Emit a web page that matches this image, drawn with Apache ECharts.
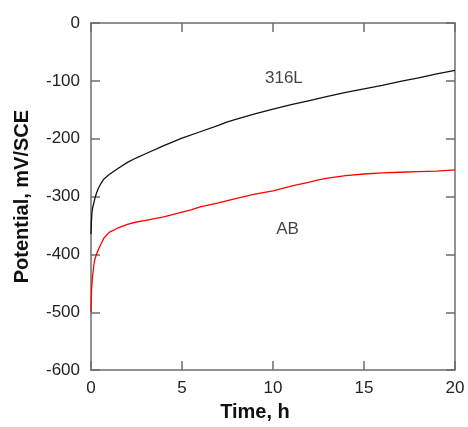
<!DOCTYPE html>
<html>
<head>
<meta charset="utf-8">
<script src="https://cdn.jsdelivr.net/npm/echarts@6/dist/echarts.min.js"></script>
<style>html,body{margin:0;padding:0;background:#fff}#c{width:468px;height:427px}</style>
</head>
<body>
<div id="c"></div>
<script>
const xTicks = [0, 5, 10, 15, 20];
const yTicks = [0, -100, -200, -300, -400, -500, -600];

const time316 = [0, 0.02, 0.05, 0.1, 0.15, 0.2, 0.3, 0.4, 0.5, 0.7, 1.0, 1.5, 2, 2.5, 3, 4, 5, 6, 7, 7.5, 8, 9, 10, 11, 12, 13, 14, 15, 16, 17, 17.5, 18, 19, 20];
const v316 = [-365, -345, -328, -318, -312, -305, -294, -286, -280, -270, -262, -251, -241, -233, -226, -212, -199, -188, -177, -171, -166, -157, -149, -141, -134, -127, -120, -114, -108, -101, -98, -95, -88, -82];

const timeAB = [0, 0.03, 0.08, 0.15, 0.2, 0.3, 0.4, 0.5, 0.7, 1.0, 1.5, 2, 2.5, 3, 4, 5, 5.5, 6, 7, 7.5, 8, 9, 10, 11, 12, 12.5, 13, 14, 15, 16, 17, 18, 19, 20];
const vAB = [-500, -462, -440, -420, -410, -400, -392, -385, -372, -362, -354, -348, -344, -341, -335, -327, -323, -318, -311, -307, -303, -296, -290, -282, -275, -271, -268, -264, -261, -259, -258, -257, -256, -254];

const labels = [
  { name: '316L', t: 10.6, v: -95 },
  { name: 'AB', t: 10.8, v: -356 }
];

const pair = (ts, vs) => ts.map((t, i) => [t, vs[i]]);
const axisGray = '#6e6e6e';
const font = '"Liberation Sans", Arial, Helvetica, sans-serif';

const chart = echarts.init(document.getElementById('c'), null, { renderer: 'canvas' });
const tickStyle = { show: true, inside: false, length: -9, lineStyle: { color: axisGray, width: 1.5 } };
const baseX = {
  type: 'value', min: xTicks[0], max: xTicks[xTicks.length - 1], interval: 5,
  axisLine: { show: true, onZero: false, lineStyle: { color: axisGray, width: 1.5 } },
  axisTick: tickStyle,
  splitLine: { show: false }
};
const baseY = {
  type: 'value', min: yTicks[yTicks.length - 1], max: yTicks[0], interval: 100,
  axisLine: { show: true, onZero: false, lineStyle: { color: axisGray, width: 1.5 } },
  axisTick: tickStyle,
  splitLine: { show: false }
};
chart.setOption({
  animation: false,
  grid: { left: 91, right: 13, top: 23, bottom: 55 },
  xAxis: [
    Object.assign({}, baseX, {
      position: 'bottom',
      name: 'Time, h', nameLocation: 'middle', nameGap: 29,
      nameTextStyle: { fontFamily: font, fontWeight: 'bold', fontSize: 20, color: '#111', padding: [0, 36, 0, 0] },
      axisLabel: { show: true, margin: 10, fontFamily: font, fontSize: 17, color: '#222' }
    }),
    Object.assign({}, baseX, { position: 'top', axisLabel: { show: false } })
  ],
  yAxis: [
    Object.assign({}, baseY, {
      position: 'left',
      name: 'Potential, mV/SCE', nameLocation: 'middle', nameGap: 59,
      nameTextStyle: { fontFamily: font, fontWeight: 'bold', fontSize: 20, color: '#111' },
      axisLabel: { show: true, margin: 11, fontFamily: font, fontSize: 17, color: '#222' }
    }),
    Object.assign({}, baseY, { position: 'right', axisLabel: { show: false } })
  ],
  series: [
    { type: 'line', name: '316L', data: pair(time316, v316), showSymbol: false, symbol: 'none',
      lineStyle: { color: '#111', width: 1.3 } },
    { type: 'line', name: 'AB', data: pair(timeAB, vAB), showSymbol: false, symbol: 'none',
      lineStyle: { color: '#ff0000', width: 1.3 } },
    { type: 'scatter', symbolSize: 0, data: labels.map(l => ({ value: [l.t, l.v], name: l.name })),
      label: { show: true, position: 'inside', formatter: p => p.name, fontFamily: font, fontSize: 17, color: '#111' },
      silent: true }
  ]
});
</script>
</body>
</html>
